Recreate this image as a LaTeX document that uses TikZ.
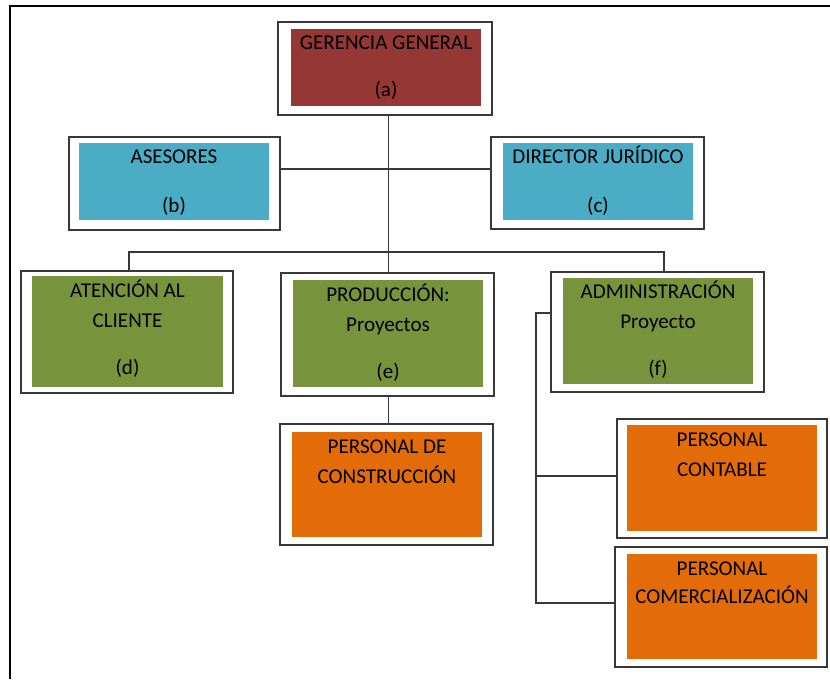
\documentclass[tikz,border=0pt]{standalone}
\usepackage{fontspec}
\newfontfamily\orgfont{Carlito}
\definecolor{redbox}{RGB}{149,55,53}
\definecolor{bluebox}{RGB}{75,172,198}
\definecolor{greenbox}{RGB}{119,147,60}
\definecolor{orangebox}{RGB}{227,108,9}
\definecolor{edge}{RGB}{56,56,56}
\tikzset{
  frame/.style={draw=edge, line width=1.3pt, fill=white, inner sep=0pt},
  link/.style={draw=edge, line width=1.3pt},
  txt/.style={anchor=base, inner sep=0pt, text=black,
    font={\orgfont\fontsize{15.8}{19}\selectfont}},
}
\begin{document}
\begin{tikzpicture}[x=0.75pt, y=-0.75pt]
\useasboundingbox (0,0) rectangle (830,679);
% page border (top and left)
\draw[line width=1.7pt] (10,679) -- (10,6) -- (830,6);

% outer frames
\node[frame, minimum width=160.5pt, minimum height=69.75pt] (a) at (385,68.5) {};
\node[frame, minimum width=158.25pt, minimum height=69.75pt] (b) at (174.5,183.5) {};
\node[frame, minimum width=159.75pt, minimum height=69pt] (c) at (597.5,183) {};
\node[frame, minimum width=159pt, minimum height=91.5pt] (d) at (127,332) {};
\node[frame, minimum width=159.75pt, minimum height=92.25pt] (e) at (387.5,334.5) {};
\node[frame, minimum width=159.75pt, minimum height=90pt] (f) at (657.5,332) {};
\node[frame, minimum width=159.75pt, minimum height=90.75pt] (g) at (386.5,484.5) {};
\node[frame, minimum width=157.5pt, minimum height=89.25pt] (h) at (722,478.5) {};
\node[frame, minimum width=159pt, minimum height=90pt] (i) at (721,607) {};

% coloured panels
\fill[redbox] (291,29) rectangle (481,106);
\fill[bluebox] (79,143) rectangle (269,220);
\fill[bluebox] (503,143) rectangle (693,220);
\fill[greenbox] (32,276) rectangle (223,387);
\fill[greenbox] (293,280) rectangle (483,387);
\fill[greenbox] (563,278) rectangle (753,384);
\fill[orangebox] (292,432) rectangle (482,537);
\fill[orangebox] (627,425) rectangle (817,531);
\fill[orangebox] (627,554) rectangle (817,659);

% labels
\node[txt] (a1) at (386,49) {GERENCIA GENERAL};
\node[txt] (a2) at (386,96) {(a)};
\node[txt] (b1) at (174,163) {ASESORES};
\node[txt] (b2) at (174,212) {(b)};
\node[txt] (c1) at (598,163) {DIRECTOR JURÍDICO};
\node[txt] (c2) at (598,212) {(c)};
\node[txt] (d1) at (127.5,297) {ATENCIÓN AL};
\node[txt] (d2) at (127.5,327) {CLIENTE};
\node[txt] (d3) at (127.5,374) {(d)};
\node[txt] (e1) at (388,301) {PRODUCCIÓN:};
\node[txt] (e2) at (388,331) {Proyectos};
\node[txt] (e3) at (388,378) {(e)};
\node[txt] (f1) at (658,298) {ADMINISTRACIÓN};
\node[txt] (f2) at (658,328) {Proyecto};
\node[txt] (f3) at (658,375) {(f)};
\node[txt] (g1) at (387,453) {PERSONAL DE};
\node[txt] (g2) at (387,483) {CONSTRUCCIÓN};
\node[txt] (h1) at (722,446) {PERSONAL};
\node[txt] (h2) at (722,476) {CONTABLE};
\node[txt] (i1) at (722,575) {PERSONAL};
\node[txt] (i2) at (722,603) {COMERCIALIZACIÓN};

% connector anchors
\coordinate (hub) at (388.5,252);
\coordinate (bc) at (388.5,169);
\coordinate (barL) at (129,252);
\coordinate (barR) at (664,252);
\coordinate (fk) at (536,313);
\coordinate (hk) at (536,476);
\coordinate (ik) at (536,603);

% connectors
\draw[link] (a.south -| hub) -- (e.north -| hub);
\draw[link] (b.east |- bc) -- (c.west |- bc);
\draw[link] (d.north -| barL) -- (barL) -- (barR) -- (f.north -| barR);
\draw[link] (e.south -| hub) -- (g.north -| hub);
\draw[link] (f.west |- fk) -- (fk) -- (ik) -- (i.west |- ik);
\draw[link] (hk) -- (h.west |- hk);
\end{tikzpicture}
\end{document}
